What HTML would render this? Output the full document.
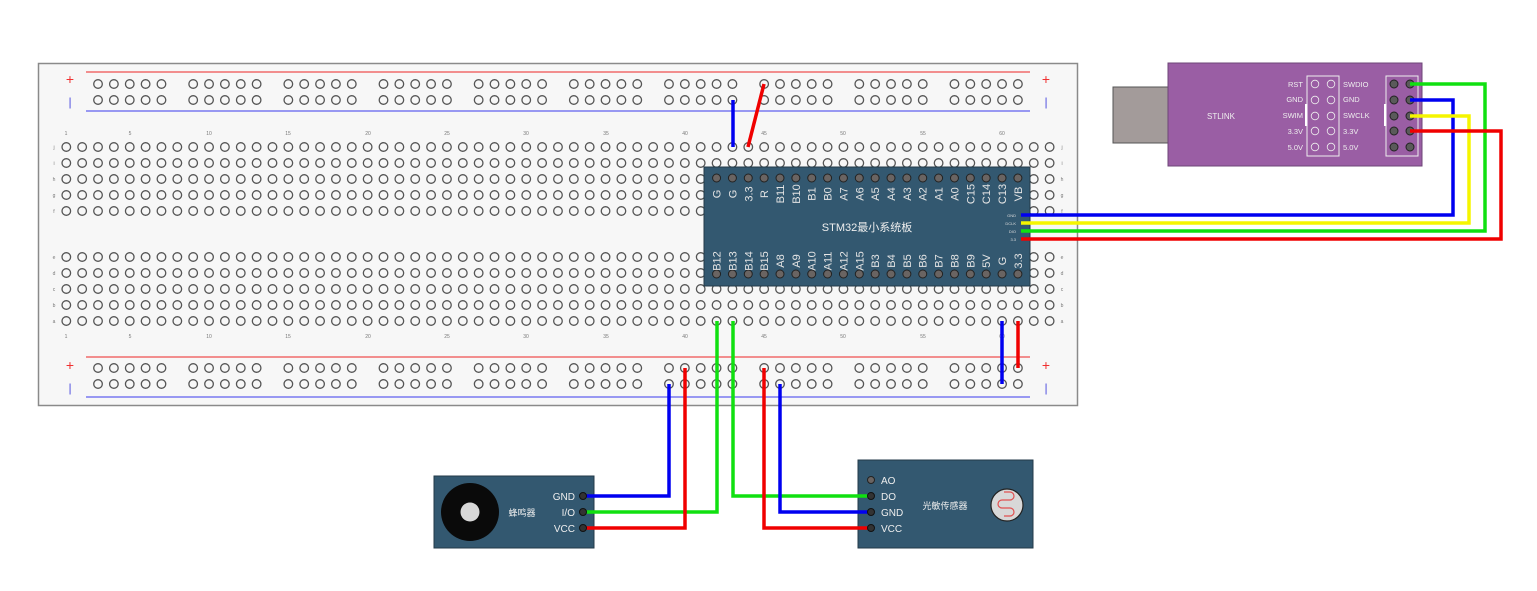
<!DOCTYPE html>
<html><head><meta charset="utf-8"><style>
html,body{margin:0;padding:0;background:#fff;}
svg{display:block;}
text{font-family:"Liberation Sans","Noto Sans CJK SC",sans-serif;}
</style></head><body>
<svg id="s" width="1537" height="591" viewBox="0 0 1537 591" xmlns="http://www.w3.org/2000/svg">
<rect x="38.5" y="63.5" width="1039" height="342" fill="#f7f7f7" stroke="#8a8a8a" stroke-width="1.5"/>
<line x1="86" y1="72" x2="1030" y2="72" stroke="#f05050" stroke-width="1.2"/>
<line x1="86" y1="111" x2="1030" y2="111" stroke="#6060f0" stroke-width="1.2"/>
<line x1="86" y1="357" x2="1030" y2="357" stroke="#f05050" stroke-width="1.2"/>
<line x1="86" y1="397" x2="1030" y2="397" stroke="#6060f0" stroke-width="1.2"/>
<text x="70" y="84" font-size="14" fill="#f03030" text-anchor="middle">+</text>
<text x="70" y="106" font-size="12" fill="#5050e0" text-anchor="middle">|</text>
<text x="1046" y="84" font-size="14" fill="#f03030" text-anchor="middle">+</text>
<text x="1046" y="106" font-size="12" fill="#5050e0" text-anchor="middle">|</text>
<text x="70" y="370" font-size="14" fill="#f03030" text-anchor="middle">+</text>
<text x="70" y="392" font-size="12" fill="#5050e0" text-anchor="middle">|</text>
<text x="1046" y="370" font-size="14" fill="#f03030" text-anchor="middle">+</text>
<text x="1046" y="392" font-size="12" fill="#5050e0" text-anchor="middle">|</text>
<g id="holes" fill="none" stroke="#555" stroke-width="1.3"></g>
<g font-size="5" fill="#777" text-anchor="middle">
<text x="66" y="135">1</text><text x="130" y="135">5</text><text x="209" y="135">10</text><text x="288" y="135">15</text><text x="368" y="135">20</text><text x="447" y="135">25</text><text x="526" y="135">30</text><text x="606" y="135">35</text><text x="685" y="135">40</text><text x="764" y="135">45</text><text x="843" y="135">50</text><text x="923" y="135">55</text><text x="1002" y="135">60</text>
<text x="66" y="338">1</text><text x="130" y="338">5</text><text x="209" y="338">10</text><text x="288" y="338">15</text><text x="368" y="338">20</text><text x="447" y="338">25</text><text x="526" y="338">30</text><text x="606" y="338">35</text><text x="685" y="338">40</text><text x="764" y="338">45</text><text x="843" y="338">50</text><text x="923" y="338">55</text><text x="1002" y="338">60</text>
<text x="54" y="149">j</text><text x="54" y="165">i</text><text x="54" y="181">h</text><text x="54" y="197">g</text><text x="54" y="213">f</text>
<text x="54" y="259">e</text><text x="54" y="275">d</text><text x="54" y="291">c</text><text x="54" y="307">b</text><text x="54" y="323">a</text>
<text x="1062" y="149">j</text><text x="1062" y="165">i</text><text x="1062" y="181">h</text><text x="1062" y="197">g</text><text x="1062" y="213">f</text>
<text x="1062" y="259">e</text><text x="1062" y="275">d</text><text x="1062" y="291">c</text><text x="1062" y="307">b</text><text x="1062" y="323">a</text>
</g>
<rect x="704" y="167" width="326" height="119" fill="#335870" stroke="#233a48" stroke-width="1"/>
<g id="pins" fill="#6a6462" stroke="#222" stroke-width="1"></g>
<g font-size="11" fill="#e4e4e4" text-anchor="middle">
<text transform="translate(720.6,194) rotate(-90)">G</text>
<text transform="translate(736.4,194) rotate(-90)">G</text>
<text transform="translate(752.3,194) rotate(-90)">3.3</text>
<text transform="translate(768.1,194) rotate(-90)">R</text>
<text transform="translate(784.0,194) rotate(-90)">B11</text>
<text transform="translate(799.9,194) rotate(-90)">B10</text>
<text transform="translate(815.7,194) rotate(-90)">B1</text>
<text transform="translate(831.6,194) rotate(-90)">B0</text>
<text transform="translate(847.4,194) rotate(-90)">A7</text>
<text transform="translate(863.3,194) rotate(-90)">A6</text>
<text transform="translate(879.2,194) rotate(-90)">A5</text>
<text transform="translate(895.0,194) rotate(-90)">A4</text>
<text transform="translate(910.9,194) rotate(-90)">A3</text>
<text transform="translate(926.7,194) rotate(-90)">A2</text>
<text transform="translate(942.6,194) rotate(-90)">A1</text>
<text transform="translate(958.5,194) rotate(-90)">A0</text>
<text transform="translate(974.3,194) rotate(-90)">C15</text>
<text transform="translate(990.2,194) rotate(-90)">C14</text>
<text transform="translate(1006.0,194) rotate(-90)">C13</text>
<text transform="translate(1021.9,194) rotate(-90)">VB</text>
<text transform="translate(720.6,261) rotate(-90)">B12</text>
<text transform="translate(736.4,261) rotate(-90)">B13</text>
<text transform="translate(752.3,261) rotate(-90)">B14</text>
<text transform="translate(768.1,261) rotate(-90)">B15</text>
<text transform="translate(784.0,261) rotate(-90)">A8</text>
<text transform="translate(799.9,261) rotate(-90)">A9</text>
<text transform="translate(815.7,261) rotate(-90)">A10</text>
<text transform="translate(831.6,261) rotate(-90)">A11</text>
<text transform="translate(847.4,261) rotate(-90)">A12</text>
<text transform="translate(863.3,261) rotate(-90)">A15</text>
<text transform="translate(879.2,261) rotate(-90)">B3</text>
<text transform="translate(895.0,261) rotate(-90)">B4</text>
<text transform="translate(910.9,261) rotate(-90)">B5</text>
<text transform="translate(926.7,261) rotate(-90)">B6</text>
<text transform="translate(942.6,261) rotate(-90)">B7</text>
<text transform="translate(958.5,261) rotate(-90)">B8</text>
<text transform="translate(974.3,261) rotate(-90)">B9</text>
<text transform="translate(990.2,261) rotate(-90)">5V</text>
<text transform="translate(1006.0,261) rotate(-90)">G</text>
<text transform="translate(1021.9,261) rotate(-90)">3.3</text>
</g>
<text x="867" y="231" font-size="11" fill="#eee" text-anchor="middle">STM32最小系统板</text>
<g font-size="4" fill="#ddd" text-anchor="end"><text x="1016" y="217">GND</text><text x="1016" y="225">DCLK</text><text x="1016" y="233">DIO</text><text x="1016" y="241">3.3</text></g>
<rect x="1113" y="87" width="56" height="56" fill="#a39b9a" stroke="#555" stroke-width="1"/>
<rect x="1168" y="63" width="254" height="103" fill="#9a5ea4" stroke="#6e4577" stroke-width="1"/>
<text x="1221" y="119" font-size="8" fill="#eee" text-anchor="middle">STLINK</text>
<rect x="1307" y="76" width="32" height="80" fill="none" stroke="#eee" stroke-width="1"/>
<rect x="1305" y="104" width="2.5" height="22" fill="#fff"/>
<rect x="1386" y="76" width="32" height="80" fill="none" stroke="#eee" stroke-width="1"/>
<rect x="1384" y="104" width="2.5" height="22" fill="#fff"/>
<g font-size="7.5" fill="#eee">
<g text-anchor="end"><text x="1303" y="87">RST</text><text x="1303" y="102">GND</text><text x="1303" y="118">SWIM</text><text x="1303" y="134">3.3V</text><text x="1303" y="150">5.0V</text></g>
<text x="1343" y="87">SWDIO</text><text x="1343" y="102">GND</text><text x="1343" y="118">SWCLK</text><text x="1343" y="134">3.3V</text><text x="1343" y="150">5.0V</text>
</g>
<g id="stpins"></g>
<rect x="434" y="476" width="160" height="72" fill="#335870" stroke="#233a48"/>
<circle cx="470" cy="512" r="29" fill="#0a0a0a"/>
<circle cx="470" cy="512" r="9.5" fill="#d8d8d8"/>
<text x="522" y="516" font-size="9" fill="#eee" text-anchor="middle">蜂鸣器</text>
<g font-size="10" fill="#eee" text-anchor="end"><text x="575" y="500">GND</text><text x="575" y="516">I/O</text><text x="575" y="532">VCC</text></g>
<rect x="858" y="460" width="175" height="88" fill="#335870" stroke="#233a48"/>
<circle cx="871" cy="480" r="3.5" fill="#6a6462" stroke="#222"/>
<g font-size="10" fill="#eee"><text x="881" y="484">AO</text><text x="881" y="500">DO</text><text x="881" y="516">GND</text><text x="881" y="532">VCC</text></g>
<text x="945" y="509" font-size="9" fill="#eee" text-anchor="middle">光敏传感器</text>
<circle cx="1007" cy="505" r="16" fill="#d8d8d8" stroke="#222" stroke-width="1.2"/>
<path d="M1004 492 h6 a4 4 0 0 1 0 8 h-8 a4 4 0 0 0 0 8 h8 a4 4 0 0 1 0 8 h-6" fill="none" stroke="#e05050" stroke-width="1.2"/>
<g fill="none" stroke-width="3.5" stroke-linejoin="miter">
<polyline points="733,100 733,147" stroke="#0000f0"/>
<polyline points="764,84 748,147" stroke="#f00000"/>
<polyline points="1021,215 1453,215 1453,100 1410,100" stroke="#0000f0"/>
<polyline points="1021,223 1469,223 1469,116 1410,116" stroke="#f5f500"/>
<polyline points="1021,231 1485,231 1485,84 1410,84" stroke="#10e010"/>
<polyline points="1021,239 1501,239 1501,131 1410,131" stroke="#f00000"/>
<polyline points="717,321 717,512 583,512" stroke="#10e010"/>
<polyline points="733,321 733,496 871,496" stroke="#10e010"/>
<polyline points="669,384 669,496 583,496" stroke="#0000f0"/>
<polyline points="685,368 685,528 583,528" stroke="#f00000"/>
<polyline points="764,368 764,528 871,528" stroke="#f00000"/>
<polyline points="780,384 780,512 871,512" stroke="#0000f0"/>
<polyline points="1002,321 1002,384" stroke="#0000f0"/>
<polyline points="1018,321 1018,368" stroke="#f00000"/>
</g>
<g fill="#333" stroke="#111" stroke-width="1">
<circle cx="583" cy="496" r="3.5"/><circle cx="583" cy="512" r="3.5"/><circle cx="583" cy="528" r="3.5"/>
<circle cx="871" cy="496" r="3.5"/><circle cx="871" cy="512" r="3.5"/><circle cx="871" cy="528" r="3.5"/>
</g>
</svg>
<script>
var NS="http://www.w3.org/2000/svg";
function X(c){return 66.3+(c-1)*15.86;}
function el(p,t,a){var e=document.createElementNS(NS,t);for(var k in a)e.setAttribute(k,a[k]);p.appendChild(e);return e;}
var h=document.getElementById('holes');
var rows=[147,163,179,195,211,257,273,289,305,321];
for(var c=1;c<=63;c++)for(var r=0;r<rows.length;r++){
 var y=rows[r]; if(c>=42&&c<=61&&(y>=171&&y<=282))continue;
 el(h,'circle',{cx:X(c),cy:y,r:4.3});}
var rails=[84,100,368,384];
for(var g=0;g<10;g++)for(var k=0;k<5;k++){var c=3+g*6+k;for(var r=0;r<4;r++)el(h,'circle',{cx:X(c),cy:rails[r],r:4.3});}
var p=document.getElementById('pins');
for(var i=0;i<20;i++){var x=X(42+i);el(p,'circle',{cx:x,cy:178,r:4});el(p,'circle',{cx:x,cy:274,r:4});}
var sp=document.getElementById('stpins');
var ry=[84,100,116,131,147];
for(var r=0;r<5;r++){
 el(sp,'circle',{cx:1315,cy:ry[r],r:3.8,fill:'none',stroke:'#eee','stroke-width':0.8});
 el(sp,'circle',{cx:1331,cy:ry[r],r:3.8,fill:'none',stroke:'#eee','stroke-width':0.8});
 el(sp,'circle',{cx:1394,cy:ry[r],r:4,fill:'#5a5a5a',stroke:'#222'});
 el(sp,'circle',{cx:1410,cy:ry[r],r:4,fill:'#5a5a5a',stroke:'#222'});}
</script>
</body></html>
